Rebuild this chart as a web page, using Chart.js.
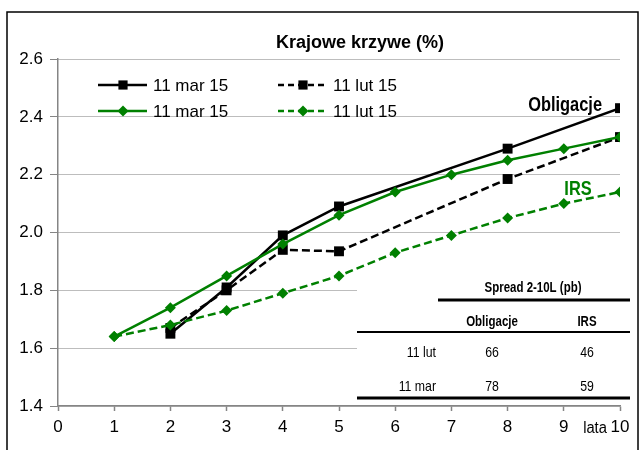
<!DOCTYPE html>
<html>
<head>
<meta charset="utf-8">
<script src="https://cdn.jsdelivr.net/npm/chart.js@4/dist/chart.umd.min.js"></script>
<style>
  html, body { margin: 0; padding: 0; background: #fff; }
  #wrap { position: relative; width: 643px; height: 450px; }
</style>
</head>
<body>
<div id="wrap"><canvas id="chart" width="643" height="450"></canvas></div>
<script>
// dane
const yearsAll = [1, 2, 3, 4, 5, 6, 7, 8, 9, 10];
const yearsObl = [2, 3, 4, 5, 8, 10];
const oblMar = [1.65, 1.81, 1.99, 2.09, 2.29, 2.43];
const oblLut = [1.67, 1.80, 1.94, 1.935, 2.185, 2.33];
const irsMar = [1.64, 1.74, 1.85, 1.96, 2.06, 2.14, 2.20, 2.25, 2.29, 2.33];
const irsLut = [1.64, 1.68, 1.73, 1.79, 1.85, 1.93, 1.99, 2.05, 2.10, 2.14];
const legendLabels = ["11 mar 15", "11 lut 15", "11 mar 15", "11 lut 15"];
const yTicks = [1.4, 1.6, 1.8, 2.0, 2.2, 2.4, 2.6];
const xTicks = [0, 1, 2, 3, 4, 5, 6, 7, 8, 9, 10];

// tabela spreadów
const spreadTitle = "Spread 2-10L (pb)";
const spreadCols = ["Obligacje", "IRS"];
const spreadRows = ["11 lut", "11 mar"];
const spreadObl = [66, 78];
const spreadIrs = [46, 59];

const GREEN = "#008000";
const GRID = "#7a7a7a";
const AXIS = "#858585";
const FONT = "'Liberation Sans', Arial, sans-serif";

const toPts = (xs, ys) => xs.map((x, i) => ({ x, y: ys[i] }));

const lineSet = (label, data, color, dashed, style) => ({
  label,
  data,
  borderColor: color,
  backgroundColor: color,
  borderWidth: 2.5,
  borderDash: dashed ? [8, 4] : [],
  pointStyle: style,
  pointRadius: style === "rect" ? 7 : 5.5,
  pointHoverRadius: style === "rect" ? 7 : 5.5,
  pointBorderWidth: 0,
  tension: 0,
  fill: false
});

// zielone na wierzchu (pierwszy dataset rysowany ostatni)
const datasets = [
  lineSet(legendLabels[2], toPts(yearsAll, irsMar), GREEN, false, "rectRot"),
  lineSet(legendLabels[3], toPts(yearsAll, irsLut), GREEN, true, "rectRot"),
  lineSet(legendLabels[0], toPts(yearsObl, oblMar), "#000", false, "rect"),
  lineSet(legendLabels[1], toPts(yearsObl, oblLut), "#000", true, "rect")
];

// tekst; sx < 1 daje "wąską" czcionkę (brak Arial Narrow)
function text(ctx, str, x, y, font, color, align, sx) {
  ctx.save();
  ctx.translate(x, y);
  ctx.scale(sx || 1, 1);
  ctx.font = font;
  ctx.fillStyle = color || "#000";
  ctx.textAlign = align || "left";
  ctx.textBaseline = "alphabetic";
  ctx.fillText(str, 0, 0);
  ctx.restore();
}

function hline(ctx, x1, x2, y, w) {
  ctx.beginPath();
  ctx.lineWidth = w;
  ctx.strokeStyle = "#000";
  ctx.setLineDash([]);
  ctx.moveTo(x1, y);
  ctx.lineTo(x2, y);
  ctx.stroke();
}

const NR = 0.82;

// biały prostokąt z tabelą przykrywa linie siatki
const spreadTable = {
  id: "spreadTable",
  beforeDatasetsDraw(chart) {
    const ctx = chart.ctx;
    ctx.save();
    ctx.fillStyle = "#fff";
    ctx.fillRect(357, 276, 276, 128);
    text(ctx, spreadTitle, 533, 292, "bold 14px " + FONT, "#000", "center", NR);
    hline(ctx, 438, 630, 300, 3);
    text(ctx, spreadCols[0], 492, 326, "bold 14px " + FONT, "#000", "center", NR);
    text(ctx, spreadCols[1], 587, 326, "bold 14px " + FONT, "#000", "center", NR);
    hline(ctx, 357, 630, 332, 2);
    spreadRows.forEach((r, i) => {
      const y = 357 + i * 34;
      text(ctx, r, 436, y, "15px " + FONT, "#000", "right", NR);
      text(ctx, String(spreadObl[i]), 492, y, "15px " + FONT, "#000", "center", NR);
      text(ctx, String(spreadIrs[i]), 587, y, "15px " + FONT, "#000", "center", NR);
    });
    hline(ctx, 357, 630, 398, 3);
    ctx.restore();
  }
};

function drawMarker(ctx, style, color, x, y, r) {
  ctx.fillStyle = color;
  ctx.beginPath();
  if (style === "rect") {
    const s = r * Math.SQRT1_2;
    ctx.rect(x - s, y - s, 2 * s, 2 * s);
  } else {
    ctx.moveTo(x, y - r);
    ctx.lineTo(x + r, y);
    ctx.lineTo(x, y + r);
    ctx.lineTo(x - r, y);
    ctx.closePath();
  }
  ctx.fill();
}

const extras = {
  id: "extras",
  afterDraw(chart) {
    const ctx = chart.ctx;
    ctx.save();
    // ramka
    ctx.lineWidth = 1.5;
    ctx.strokeStyle = "#000";
    ctx.strokeRect(7, 12, 631, 450);

    text(ctx, "Krajowe krzywe (%)", 360, 48, "bold 18px " + FONT, "#000", "center");

    // legenda: [indeks datasetu, kolumna, wiersz]
    const items = [[2, 0, 0], [3, 1, 0], [0, 0, 1], [1, 1, 1]];
    items.forEach(([di, col, row]) => {
      const ds = chart.data.datasets[di];
      const x0 = 98 + col * 180;
      const y = 85 + row * 26;
      ctx.beginPath();
      ctx.lineWidth = ds.borderWidth;
      ctx.strokeStyle = ds.borderColor;
      ctx.setLineDash(ds.borderDash.length ? [6, 4] : []);
      ctx.moveTo(x0, y);
      ctx.lineTo(x0 + 49, y);
      ctx.stroke();
      ctx.setLineDash([]);
      drawMarker(ctx, ds.pointStyle, ds.borderColor, x0 + 25, y, ds.pointStyle === "rect" ? 6.5 : 5.5);
      text(ctx, ds.label, x0 + 55, y + 6, "17px " + FONT, "#000", "left");
    });

    text(ctx, "Obligacje", 602, 111, "bold 20px " + FONT, "#000", "right", NR);
    text(ctx, "IRS", 578, 195, "bold 20px " + FONT, GREEN, "center", NR);
    text(ctx, "lata", 595, 433, "16px " + FONT, "#000", "center", 0.92);
    ctx.restore();
  }
};

new Chart(document.getElementById("chart"), {
  type: "line",
  data: { datasets },
  options: {
    responsive: false,
    animation: false,
    events: [],
    layout: { padding: { top: 59, right: 23, left: 0, bottom: 0 } },
    plugins: {
      legend: { display: false },
      tooltip: { enabled: false },
      title: { display: false }
    },
    scales: {
      x: {
        type: "linear",
        min: 0,
        max: 10,
        afterBuildTicks: s => { s.ticks = xTicks.map(v => ({ value: v })); },
        afterFit: s => { s.height = 44; },
        ticks: { color: "#000", font: { size: 17, family: FONT }, padding: 6, maxRotation: 0 },
        grid: { drawOnChartArea: false, drawTicks: true, tickLength: 5, tickColor: AXIS, tickWidth: 1.5 },
        border: { color: AXIS, width: 1.5 }
      },
      y: {
        min: 1.4,
        max: 2.6,
        afterBuildTicks: s => { s.ticks = yTicks.map(v => ({ value: v })); },
        afterFit: s => { s.width = 58; },
        ticks: {
          color: "#000",
          font: { size: 17, family: FONT },
          padding: 7,
          callback: v => Number(v).toFixed(1)
        },
        grid: { color: GRID, lineWidth: 1, drawTicks: true, tickLength: 8, tickColor: AXIS, tickWidth: 1 },
        border: { color: AXIS, width: 1.5, dash: [1, 1] }
      }
    }
  },
  plugins: [spreadTable, extras]
});
</script>
</body>
</html>
